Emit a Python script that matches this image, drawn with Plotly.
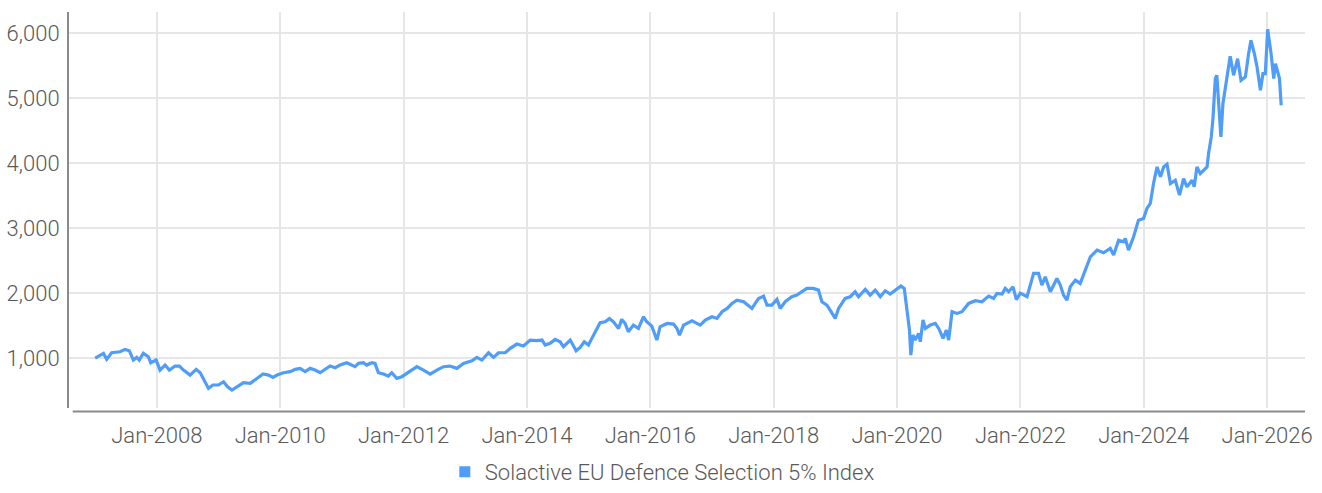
import plotly.graph_objects as go

dates = [
 "2007-01-01","2007-02-19","2007-03-10","2007-04-08","2007-05-28","2007-06-27","2007-07-22","2007-08-15","2007-09-04","2007-09-19",
 "2007-10-13","2007-11-12","2007-11-26","2007-12-28","2008-01-20","2008-02-19","2008-03-15","2008-04-18","2008-05-14","2008-06-07",
 "2008-07-16","2008-08-21","2008-09-14","2008-10-13","2008-11-02","2008-11-28","2008-12-31","2009-01-30","2009-02-23","2009-03-21",
 "2009-04-19","2009-05-28","2009-07-07","2009-08-16","2009-09-21","2009-10-24","2009-11-19","2009-12-13","2010-01-20","2010-03-01",
 "2010-03-31","2010-04-29","2010-05-28","2010-06-27","2010-07-26","2010-08-25","2010-09-24","2010-10-23","2010-11-22","2010-12-21",
 "2011-01-30","2011-02-19","2011-03-20","2011-04-09","2011-05-08","2011-05-28","2011-06-27","2011-07-16","2011-08-05","2011-09-04",
 "2011-10-03","2011-10-23","2011-11-22","2011-12-22","2012-01-20","2012-02-28","2012-03-20","2012-04-28","2012-06-07","2012-07-16",
 "2012-08-24","2012-10-03","2012-11-12","2012-12-21","2013-02-09","2013-03-10","2013-04-09","2013-05-18","2013-06-17","2013-07-16",
 "2013-08-25","2013-09-24","2013-11-02","2013-12-11","2014-01-20","2014-03-01","2014-03-31","2014-04-19","2014-05-18","2014-06-17",
 "2014-07-16","2014-08-05","2014-09-14","2014-10-19","2014-11-12","2014-12-06","2014-12-31","2015-01-20","2015-02-09","2015-03-10",
 "2015-04-09","2015-05-04","2015-05-28","2015-06-27","2015-07-16","2015-08-05","2015-08-24","2015-09-23","2015-10-23","2015-11-22",
 "2015-12-11","2016-01-10","2016-02-09","2016-02-28","2016-04-09","2016-05-18","2016-06-07","2016-06-22","2016-07-16","2016-09-04",
 "2016-10-23","2016-11-22","2016-12-31","2017-01-30","2017-03-01","2017-03-31","2017-04-29","2017-05-28","2017-07-07","2017-08-25",
 "2017-10-03","2017-11-02","2017-11-22","2017-12-21","2018-01-20","2018-02-09","2018-03-10","2018-04-18","2018-05-18","2018-06-17",
 "2018-07-16","2018-08-24","2018-09-23","2018-10-13","2018-11-12","2018-12-01","2018-12-31","2019-01-20","2019-02-28","2019-03-30",
 "2019-04-28","2019-05-18","2019-06-27","2019-07-26","2019-08-25","2019-09-24","2019-10-23","2019-11-22","2019-12-21","2020-01-24",
 "2020-02-13","2020-03-01","2020-03-15","2020-03-23","2020-04-04","2020-04-18","2020-05-08","2020-05-18","2020-06-03","2020-06-17",
 "2020-07-16","2020-08-15","2020-09-04","2020-09-30","2020-10-19","2020-11-02","2020-11-22","2020-12-21","2021-01-20","2021-02-28",
 "2021-04-09","2021-05-18","2021-06-27","2021-07-26","2021-08-15","2021-09-14","2021-10-03","2021-10-23","2021-11-18","2021-12-08",
 "2021-12-31","2022-02-09","2022-03-20","2022-04-18","2022-05-08","2022-05-28","2022-06-27","2022-08-05","2022-08-25","2022-09-13",
 "2022-10-03","2022-10-23","2022-11-22","2022-12-21","2023-01-20","2023-02-19","2023-03-31","2023-05-08","2023-06-17","2023-07-07",
 "2023-08-05","2023-09-04","2023-09-14","2023-10-03","2023-11-02","2023-12-01","2023-12-31","2024-01-20","2024-02-09","2024-02-28",
 "2024-03-20","2024-04-09","2024-04-28","2024-05-18","2024-06-07","2024-07-06","2024-07-31","2024-08-24","2024-09-13","2024-10-13",
 "2024-10-26","2024-11-11","2024-12-01","2024-12-20","2025-01-10","2025-01-19","2025-02-04","2025-02-14","2025-02-28","2025-03-09",
 "2025-03-19","2025-04-02","2025-04-14","2025-04-28","2025-05-11","2025-05-27","2025-06-16","2025-07-10","2025-07-30","2025-08-25",
 "2025-09-13","2025-09-27","2025-10-17","2025-11-02","2025-11-22","2025-12-07","2025-12-21","2026-01-04","2026-01-24","2026-02-09",
 "2026-02-19","2026-03-04","2026-03-15","2026-03-25",
]

values = [
 1000,1072,980,1082,1097,1133,1113,969,1010,969,
 1072,1020,928,969,815,892,815,877,877,815,
 738,826,774,635,533,585,585,635,558,508,
 558,620,610,688,754,738,703,738,774,790,
 826,841,790,841,815,774,826,877,851,892,
 928,908,867,918,928,892,928,918,774,754,
 723,774,688,713,764,841,867,815,754,815,
 867,877,841,918,959,1010,969,1082,1010,1082,
 1082,1149,1215,1185,1277,1267,1277,1200,1226,1287,
 1251,1174,1277,1113,1164,1251,1200,1303,1405,1543,
 1559,1610,1559,1456,1595,1533,1405,1508,1456,1636,
 1559,1492,1277,1482,1533,1523,1456,1354,1508,1574,
 1508,1585,1636,1610,1713,1764,1841,1892,1867,1764,
 1918,1954,1815,1815,1903,1764,1867,1944,1969,2021,
 2072,2072,2046,1867,1815,1738,1610,1764,1918,1944,
 2021,1944,2056,1969,2046,1944,2036,1985,2046,2108,
 2072,1738,1431,1046,1354,1277,1380,1251,1585,1456,
 1508,1533,1456,1303,1431,1277,1713,1687,1713,1841,
 1882,1867,1954,1918,1995,1985,2072,2021,2097,1900,
 2000,1944,2303,2303,2123,2251,2021,2226,2123,1969,
 1892,2097,2200,2149,2354,2559,2662,2621,2688,2585,
 2815,2790,2841,2662,2867,3123,3149,3303,3380,3687,
 3943,3790,3943,3985,3687,3738,3508,3764,3636,3738,
 3636,3943,3841,3892,3943,4149,4405,4687,5303,5354,
 5021,4405,4918,5174,5379,5646,5354,5610,5277,5328,
 5687,5892,5687,5482,5123,5379,5379,6062,5687,5303,
 5533,5379,5303,4892,
]

series_name = "Solactive EU Defence Selection 5% Index"
y_ticks = [1000, 2000, 3000, 4000, 5000, 6000]

LINE = "#4f9df9"
FONT = "Roboto"
TXT = "#595959"

fig = go.Figure()
fig.add_trace(go.Scatter(x=dates, y=values, mode="lines", showlegend=False,
                         line=dict(color=LINE, width=3.2), hoverinfo="x+y"))
fig.add_trace(go.Scatter(x=[None], y=[None], mode="markers", name=series_name,
                         marker=dict(symbol="square", size=11, color=LINE)))

fig.update_layout(
    width=1322, height=493,
    margin=dict(l=69, r=17, t=12, b=85, autoexpand=False),
    plot_bgcolor="white", paper_bgcolor="white",
    font=dict(family=FONT, size=22, color=TXT, weight=300),
    showlegend=True,
    legend=dict(orientation="h", x=0.501, xref="container", xanchor="center",
                y=0.0, yref="container", yanchor="bottom",
                font=dict(size=22, color=TXT), borderwidth=0,
                itemwidth=30, bgcolor="rgba(0,0,0,0)"),
    xaxis=dict(type="date", range=["2006-07-30", "2026-08-13"],
               tick0="2008-01-01", dtick="M24", tickformat="%b-%Y",
               showgrid=True, gridcolor="#e6e6e6", gridwidth=2,
               showline=False, zeroline=False, automargin=False,
               ticks="outside", ticklen=8, tickcolor="rgba(0,0,0,0)"),
    yaxis=dict(range=[231, 6328], tickvals=y_ticks, tickformat=",d",
               showgrid=True, gridcolor="#e6e6e6", gridwidth=2,
               zeroline=False, showline=True, linecolor="#8a8a8a", linewidth=2,
               automargin=False,
               ticks="outside", ticklen=3, tickcolor="rgba(0,0,0,0)"),
)

fig.add_shape(type="line", xref="paper", yref="paper", x0=0.003, x1=1, y0=-0.009, y1=-0.009,
              line=dict(color="#8a8a8a", width=2), layer="above")

fig.write_html("out.html", config={"displayModeBar": False},
               post_script="document.body.style.margin='0';document.body.style.overflow='hidden';")
